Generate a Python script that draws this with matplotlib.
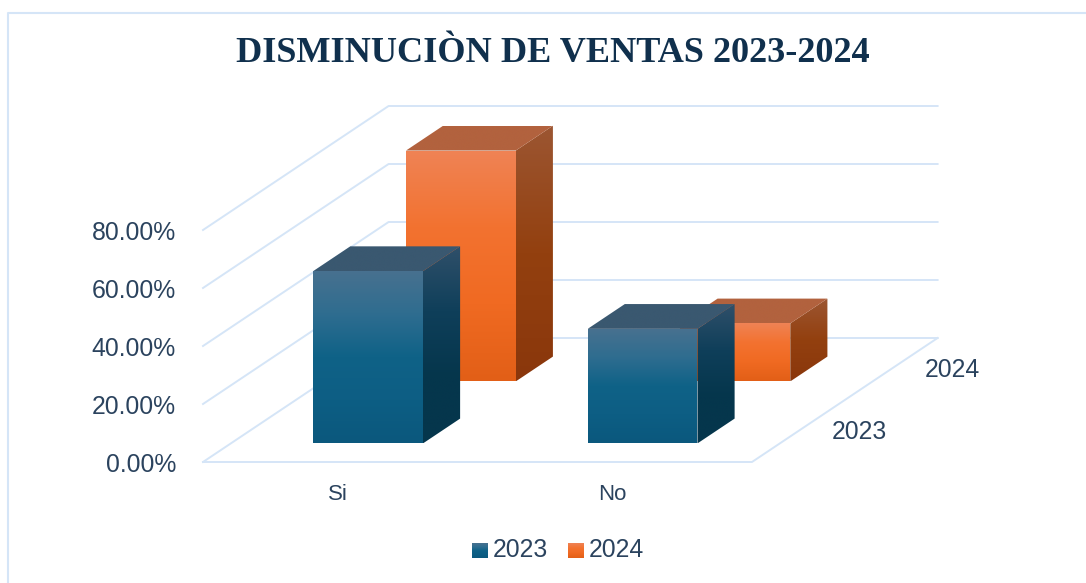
import numpy as np
import matplotlib
matplotlib.use("Agg")
import matplotlib.pyplot as plt
from matplotlib.colors import LinearSegmentedColormap
from matplotlib.patches import Polygon

categories = ["Si", "No"]
series = ["2023", "2024"]
values_2023 = [59.4, 39.5]
values_2024 = [79.6, 20]
ticks = [0, 20, 40, 60, 80]
tick_labels = ["0.00%", "20.00%", "40.00%", "60.00%", "80.00%"]
title = "DISMINUCIÒN DE VENTAS 2023-2024"

grid_color = "#d5e5f7"
text_color = "#2b435e"

# colours of each face, top to bottom
blue = {"front": ["#48718f", "#2f6d90", "#0f6287", "#0d5e84", "#0b587d"],
        "side": ["#30506a", "#0f3f5a", "#05364c", "#05364c"],
        "top": ["#3a5870", "#3a5870"]}
orange = {"front": ["#ef8355", "#f37230", "#f06a22", "#e25f17"],
          "side": ["#9c5632", "#93400f", "#8a370c"],
          "top": ["#b2623e", "#b2623e"]}


# oblique projection: category position, depth slot, value -> pixels
def proj(x, d, v):
    return (203 + 274.5 * x + 92.8 * d, 462 - 62 * d - 2.9 * v)


fig = plt.figure(figsize=(10.86, 5.83), dpi=100)
ax = fig.add_axes([0, 0, 1, 1])
ax.set_xlim(0, 1086)
ax.set_ylim(583, 0)
ax.axis("off")


def face(points, colors, z):
    # polygon filled with a vertical gradient
    poly = Polygon(points, closed=True, fc="none", ec="none", transform=ax.transData)
    ax.add_patch(poly)
    xs = [p[0] for p in points]
    ys = [p[1] for p in points]
    cmap = LinearSegmentedColormap.from_list("f", colors)
    im = ax.imshow(np.linspace(0, 1, 256).reshape(-1, 1), cmap=cmap, aspect="auto",
                   extent=(min(xs), max(xs), max(ys), min(ys)), zorder=z, interpolation="bilinear")
    im.set_clip_path(poly)


def bar(cat, slot, value, style, z):
    x0 = cat + 0.3
    x1 = cat + 0.7
    d0 = slot + 0.3
    d1 = slot + 0.7
    face([proj(x0, d0, 0), proj(x1, d0, 0), proj(x1, d0, value), proj(x0, d0, value)], style["front"], z)
    face([proj(x1, d0, 0), proj(x1, d1, 0), proj(x1, d1, value), proj(x1, d0, value)], style["side"], z)
    face([proj(x0, d0, value), proj(x1, d0, value), proj(x1, d1, value), proj(x0, d1, value)], style["top"], z)


# chart frame, open on the right and at the bottom
ax.plot([8, 8, 1086], [583, 13, 13], color=grid_color, lw=1.5, zorder=1)

# walls and floor
for t, lab in zip(ticks, tick_labels):
    a = proj(0, 0, t)
    b = proj(0, 2, t)
    c = proj(2, 2, t)
    ax.plot([a[0], b[0], c[0]], [a[1], b[1], c[1]], color=grid_color, lw=1.4, zorder=1)
    ax.text(a[0] - 27, a[1] + 2.5, lab, ha="right", va="center", fontsize=17.8,
            family="Liberation Sans", color=text_color)
a = proj(0, 0, 0)
b = proj(2, 0, 0)
c = proj(2, 2, 0)
ax.plot([a[0], b[0], c[0]], [a[1], b[1], c[1]], color=grid_color, lw=1.4, zorder=1)

for i in range(2):
    bar(i, 1, values_2024[i], orange, 2 + i * 0.1)
for i in range(2):
    bar(i, 0, values_2023[i], blue, 3 + i * 0.1)

for i, cat in enumerate(categories):
    p = proj(i + 0.5, 0, 0)
    ax.text(p[0] - 2.5, p[1] + 33, cat, ha="center", va="center", fontsize=16,
            family="Liberation Sans", color=text_color)
for i, s in enumerate(series):
    p = proj(2, i + 0.5, 0)
    ax.text(p[0] + 61, p[1] + 1, s, ha="center", va="center", fontsize=17.8,
            family="Liberation Sans", color=text_color)

ax.text(553, 54, title, ha="center", va="center", fontsize=26.1, fontweight="bold",
        family="Liberation Serif", color="#10304d")

# legend
for lx, s, style in zip([472, 568], series, [blue, orange]):
    face([(lx, 543), (lx + 16, 543), (lx + 16, 558), (lx, 558)], style["front"], 4)
    ax.text(lx + 21, 550, s, ha="left", va="center", fontsize=17.8,
            family="Liberation Sans", color=text_color)

ax.set_xlim(0, 1086)
ax.set_ylim(583, 0)
fig.savefig("out.png", dpi=100)
